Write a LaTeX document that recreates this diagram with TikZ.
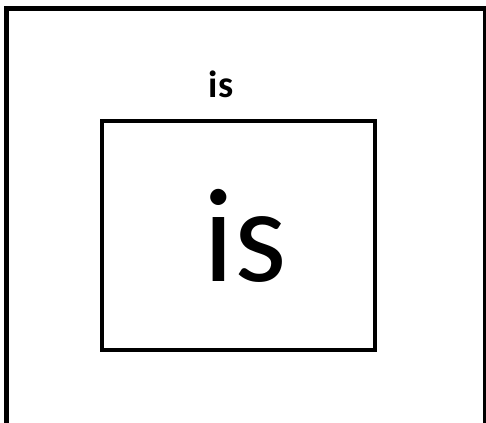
\documentclass[tikz,border=0pt]{standalone}
\usepackage{fontspec}
\setmainfont{Carlito}
\usetikzlibrary{positioning}

\begin{document}
\begin{tikzpicture}[x=1pt,y=1pt,
  box/.style={draw, rectangle, inner sep=0pt},
  word/.style={inner sep=0pt, anchor=base}]
\useasboundingbox (0,0) rectangle (486,422);
% outer frame (bottom edge runs off the page)
\node[box, line width=5pt, minimum width=479pt, minimum height=433.5pt] (frame) at (246,196.75) {};
\node[box, line width=4pt, minimum width=273pt, minimum height=229pt] (inner) at (238.5,186.5) {};
% labels
\node[word, font=\bfseries\fontsize{38}{38}\selectfont] (small) at (221,324) {is};
\node[word, font=\fontsize{134}{134}\selectfont] (big) at (245,140) {is};
\end{tikzpicture}
\end{document}
